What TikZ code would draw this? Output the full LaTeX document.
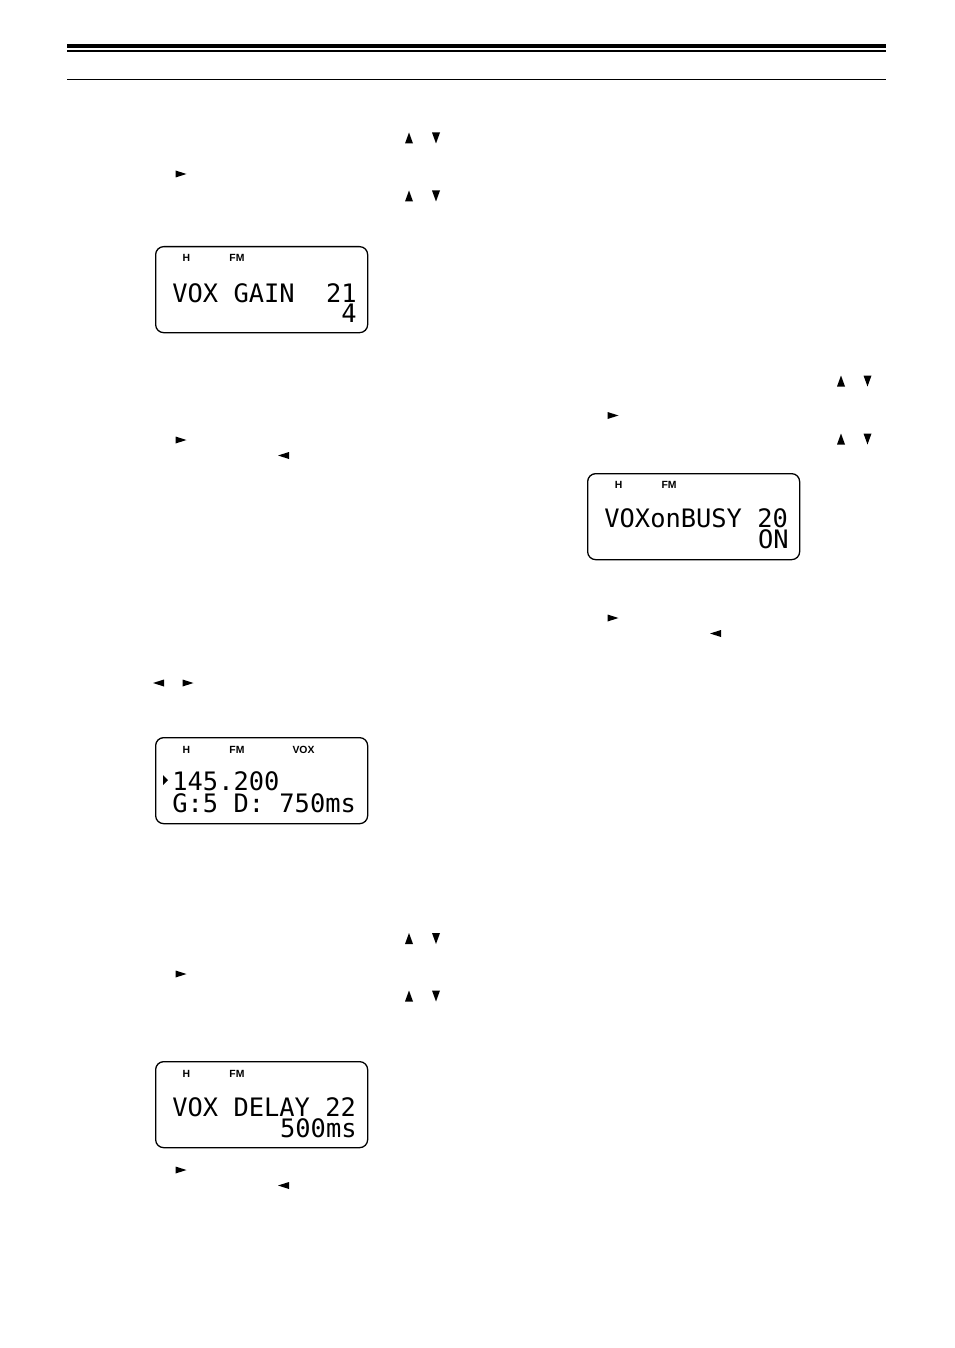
\documentclass[tikz,border=0pt]{standalone}
\usepackage{fontspec}
\newfontfamily\lcdfont{DejaVu Sans Mono}
\newfontfamily\tagfont{Liberation Sans}

\tikzset{
    upkey/.pic={\fill (-4,5.5) -- (4,5.5) -- (0,-5.5) -- cycle;},
    downkey/.pic={\fill (-4,-5.5) -- (4,-5.5) -- (0,5.5) -- cycle;},
    rightkey/.pic={\fill (-5.5,-3.5) -- (-5.5,3.5) -- (5.5,0) -- cycle;},
    leftkey/.pic={\fill (5.5,-3.5) -- (5.5,3.5) -- (-5.5,0) -- cycle;},
    cursor/.pic={\fill (-2.5,-5) -- (-2.5,5) -- (2.5,0) -- cycle;}
}

\begin{document}
\begin{tikzpicture}[
    x=0.5pt, y=-0.5pt,
    lcd/.style={draw, line width=0.65pt, rounded corners=4pt,
        minimum width=106pt, minimum height=43pt, inner sep=0pt, anchor=north west},
    lcdtext/.style={font=\lcdfont\fontsize{12.7}{14}\selectfont, inner sep=0pt,
        text height=9pt, text depth=0pt},
    lcdleft/.style={lcdtext, anchor=base west},
    lcdright/.style={lcdtext, anchor=base east},
    tag/.style={font=\tagfont\bfseries\fontsize{5.2}{6}\selectfont, inner sep=0pt, anchor=base}
]
\useasboundingbox (0,0) rectangle (954,1348);

% page rules
\fill (67,44) rectangle (886,48.5);
\draw[line width=0.7pt] (67,51) -- (886,51);
\draw[line width=0.5pt] (67,80) -- (886,80);

% VOX gain
\pic at (409,138) {upkey};
\pic at (436,138) {downkey};
\pic at (181,174) {rightkey};
\pic at (409,196) {upkey};
\pic at (436,196) {downkey};

\node[lcd] (gain) at (155,246) {};
\node[tag] (gainh)  at (186.5,261.5) {H};
\node[tag] (gainfm) at (237,261.5) {FM};
\node[lcdleft]  (gaintxt) at (172,302) {VOX GAIN};
\node[lcdright] (gainno)  at (357,302) {21};
\node[lcdright] (gainval) at (357,322.5) {4};

\pic at (181,440) {rightkey};
\pic at (283.5,455.5) {leftkey};

% frequency display
\pic at (158.5,683) {leftkey};
\pic at (188,683) {rightkey};

\node[lcd] (freq) at (155,737) {};
\node[tag] (freqh)   at (186.5,753.5) {H};
\node[tag] (freqfm)  at (237,753.5) {FM};
\node[tag] (freqvox) at (303.5,753.5) {VOX};
\pic at (165.5,780) {cursor};
\node[lcdleft] (freqtxt) at (172,790) {145.200};
\node[lcdleft] (freqset) at (172,812) {G:5 D: 750ms};

% VOX delay
\pic at (409,938.5) {upkey};
\pic at (436,938.5) {downkey};
\pic at (181,974) {rightkey};
\pic at (409,996) {upkey};
\pic at (436,996) {downkey};

\node[lcd] (delay) at (155,1061) {};
\node[tag] (delayh)  at (186.5,1077.5) {H};
\node[tag] (delayfm) at (237,1077.5) {FM};
\node[lcdleft]  (delaytxt) at (172,1116) {VOX DELAY 22};
\node[lcdright] (delayval) at (357,1137) {500ms};

\pic at (181,1170) {rightkey};
\pic at (283.5,1185.5) {leftkey};

% VOX on busy
\pic at (841,381) {upkey};
\pic at (867.5,381) {downkey};
\pic at (613,415.5) {rightkey};
\pic at (841,439) {upkey};
\pic at (867.5,439) {downkey};

\node[lcd] (busy) at (587,473) {};
\node[tag] (busyh)  at (618.5,488.5) {H};
\node[tag] (busyfm) at (669,488.5) {FM};
\node[lcdleft]  (busytxt) at (604,527) {VOXonBUSY 20};
\node[lcdright] (busyval) at (789,548) {ON};

\pic at (613,618) {rightkey};
\pic at (715.5,633.5) {leftkey};

\end{tikzpicture}
\end{document}
